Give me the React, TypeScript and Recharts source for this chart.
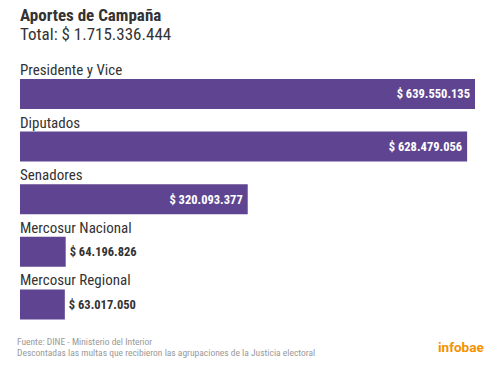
import React from 'react';
import { BarChart, Bar, XAxis, YAxis, LabelList } from 'recharts';

const categories = ['Presidente y Vice', 'Diputados', 'Senadores', 'Mercosur Nacional', 'Mercosur Regional'];
const amounts = [639550135, 628479056, 320093377, 64196826, 63017050];

const data = categories.map((name, i) => ({ name, value: amounts[i] }));

const fmt = (v: number) => '$ ' + v.toString().replace(/\B(?=(\d{3})+(?!\d))/g, '.');

const FONT = '"Roboto Condensed", "Liberation Sans Narrow", Roboto, sans-serif';

const NameLabel = (props: any) => {
  const { x, y, value } = props;
  return (
    <text x={x} y={y - 4} fill="#333" fontSize={15} fontFamily={FONT}>
      {value}
    </text>
  );
};

const ValueLabel = (props: any) => {
  const { x, y, width, height, value } = props;
  const inside = width > 120;
  return (
    <text
      x={inside ? x + width - 5 : x + width + 4}
      y={y + height / 2}
      dy="0.35em"
      textAnchor={inside ? 'end' : 'start'}
      fill={inside ? '#fff' : '#333'}
      fontSize={12.5}
      fontWeight="bold"
      fontFamily={FONT}
    >
      {fmt(value)}
    </text>
  );
};

export default function App() {
  return (
    <div style={{ position: 'absolute', left: 0, top: 0, width: 500, height: 369, background: '#fff', fontFamily: FONT }}>
      <div style={{ position: 'absolute', left: 20, top: 6, fontSize: 17, lineHeight: '18px', fontWeight: 'bold', color: '#333' }}>
        Aportes de Campaña
      </div>
      <div style={{ position: 'absolute', left: 20, top: 25, fontSize: 17, lineHeight: '18px', color: '#333' }}>
        Total: $ 1.715.336.444
      </div>
      <BarChart
        width={500}
        height={369}
        data={data}
        layout="vertical"
        margin={{ top: 68, right: 25, bottom: 38, left: 20 }}
      >
        <XAxis type="number" domain={[0, 639550135]} hide />
        <YAxis type="category" dataKey="name" hide />
        <Bar dataKey="value" fill="#5f4591" barSize={30} isAnimationActive={false}>
          <LabelList dataKey="name" content={NameLabel} />
          <LabelList dataKey="value" content={ValueLabel} />
        </Bar>
      </BarChart>
      <div style={{ position: 'absolute', left: 17, top: 336, fontSize: 9.5, color: '#999', lineHeight: '11px' }}>
        Fuente: DINE - Ministerio del Interior
        <br />
        Descontadas las multas que recibieron las agrupaciones de la Justicia electoral
      </div>
      <div style={{ position: 'absolute', left: 438, top: 339, fontSize: 13.5, lineHeight: '16px', fontWeight: 'bold', color: '#f39200', fontFamily: 'Roboto, sans-serif' }}>
        infobae
      </div>
    </div>
  );
}
